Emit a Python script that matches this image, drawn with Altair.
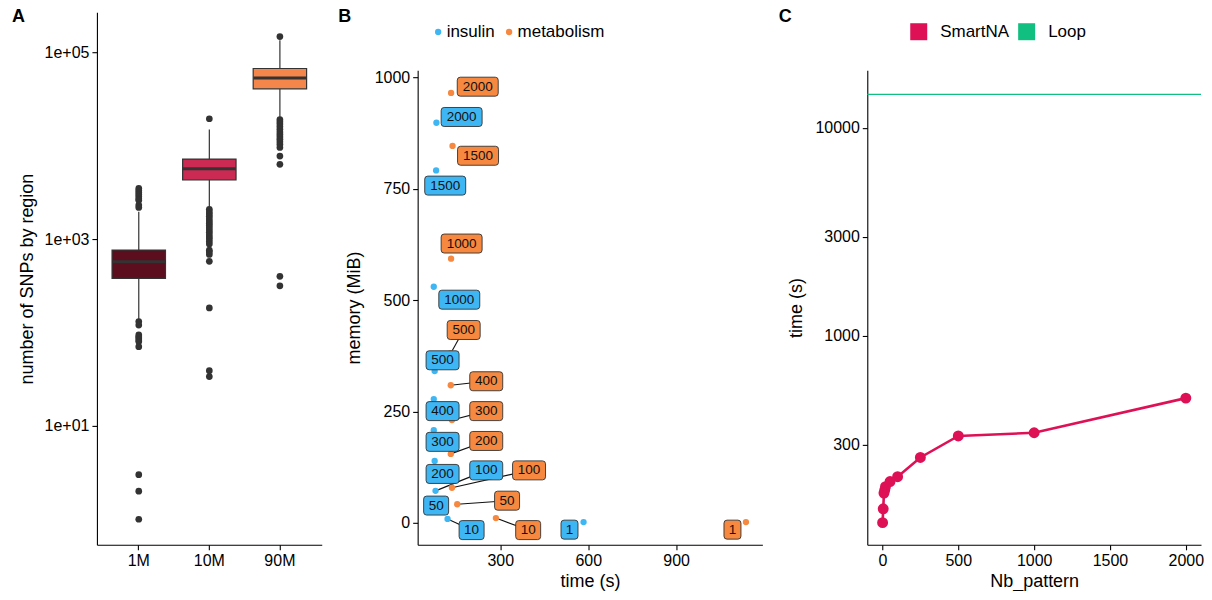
import altair as alt
import pandas as pd

FONT = "Liberation Sans"

# ---------------- Panel A : box plots (summary statistics) ----------
A_CATS = ["1M", "10M", "90M"]
A_Q1 = [380, 4305, 40550]
A_MED = [571, 5650, 53100]
A_Q3 = [762, 7180, 67000]
A_WLO = [136, 2130, 19540]
A_WHI = [1959, 14900, 134000]
A_COLORS = ["#5C0E1F", "#CB2A53", "#F4854B"]

A_OUT_1M = [3480, 3300, 3150, 3000, 2850, 2700, 2610, 2310, 2180,
            131, 120, 94, 90, 87, 83, 80, 70.5, 3, 2, 1]
A_OUT_10M = [19400, 2080, 1950, 1850, 1750, 1650, 1560, 1480, 1400, 1320, 1250,
             1180, 1110, 1050, 1000, 940, 885, 760, 731, 685, 577, 183, 39, 33.7]
A_OUT_90M = [147000, 19000, 18000, 17000, 16000, 15000, 14000, 13200, 12400,
             11700, 11000, 10300, 9550, 7730, 6310, 399, 316]
A_TICKS = [10, 1000, 100000]
A_TICK_LABELS = ["1e+01", "1e+03", "1e+05"]

# ---------------- Panel B : memory vs time ----------------
B_PATTERN = [1, 10, 50, 100, 200, 300, 400, 500, 1000, 1500, 2000]
INS_TIME = [584, 120, 76, 79, 76, 73, 73, 76, 73, 81, 82]
INS_MEM = [2, 9, 40, 72, 139, 208, 278, 341, 530, 791, 898]
MET_TIME = [1138, 285, 153, 135, 131, 135, 131, 131, 132, 137, 132]
MET_MEM = [2, 11, 42, 79, 155, 231, 309, 381, 593, 846, 965]
# repelled label anchors (data units) and whether a leader segment is drawn
INS_LAB_X = [536, 202, 81, 252, 103, 103, 103, 103, 160, 112, 168]
INS_LAB_Y = [-15, -16, 39, 118, 110, 182, 251, 365, 501, 757, 911]
MET_LAB_X = [1092, 395, 323, 398, 252, 252, 252, 175, 168, 224, 223]
MET_LAB_Y = [-15, -16, 50, 118, 184, 251, 318, 433, 627, 824, 979]
INS_SEG = [0, 1, 0, 1, 0, 0, 0, 0, 0, 0, 0]
MET_SEG = [0, 1, 1, 1, 1, 1, 1, 1, 0, 0, 0]
B_GROUPS = ["insulin", "metabolism"]
B_COLORS = ["#3FB6F4", "#F6883F"]

# ---------------- Panel C : time vs Nb_pattern ----------------
C_PATTERN = [1, 5, 10, 15, 20, 50, 100, 250, 500, 1000, 2000]
C_TIME = [127, 148, 176, 182, 189, 200, 211, 261, 331, 343, 503]
LOOP_TIME = [14450]
C_METHODS = ["SmartNA", "Loop"]
C_COLORS = ["#DE1156", "#11BF80"]

# ======================= build data frames =======================
a_stats = pd.DataFrame({"cat": A_CATS, "q1": A_Q1, "med": A_MED, "q3": A_Q3,
                        "wlo": A_WLO, "whi": A_WHI})
a_out = pd.DataFrame({
    "cat": ["1M"] * len(A_OUT_1M) + ["10M"] * len(A_OUT_10M) + ["90M"] * len(A_OUT_90M),
    "val": A_OUT_1M + A_OUT_10M + A_OUT_90M,
})

ins = pd.DataFrame({"group": "insulin", "pattern": B_PATTERN, "t": INS_TIME, "mem": INS_MEM,
                    "lx": INS_LAB_X, "ly": INS_LAB_Y, "seg": INS_SEG})
met = pd.DataFrame({"group": "metabolism", "pattern": B_PATTERN, "t": MET_TIME, "mem": MET_MEM,
                    "lx": MET_LAB_X, "ly": MET_LAB_Y, "seg": MET_SEG})
bdf = pd.concat([ins, met], ignore_index=True)
bdf["label"] = bdf["pattern"].astype(str)
bdf["nch"] = bdf["label"].str.len().astype(str)

cdf = pd.DataFrame({"pattern": C_PATTERN, "time": C_TIME, "method": "SmartNA"})
loop = pd.DataFrame({"time": LOOP_TIME, "method": "Loop"})

FULL_H = 533          # height of every panel (A uses it all)
TOP_GAP = 58          # B and C panels start lower, below their legends

# ======================= Panel A =======================
a_x = alt.X("cat:N", sort=A_CATS,
            scale=alt.Scale(domain=A_CATS, paddingInner=0.243, paddingOuter=0.2145),
            axis=alt.Axis(title=None, labelAngle=0))
a_yscale = alt.Scale(type="log", domain=[0.533, 268000], nice=False)
label_expr = " : ".join(
    [f"datum.value == {v} ? '{l}'" for v, l in zip(A_TICKS, A_TICK_LABELS)]) + " : ''"
a_yaxis = alt.Axis(title="number of SNPs by region", values=A_TICKS, labelExpr=label_expr,
                   titlePadding=8)

a_base = alt.Chart(a_stats)
a_wlo = a_base.mark_rule(color="#333333", strokeWidth=1.2).encode(
    x=a_x, y=alt.Y("wlo:Q", scale=a_yscale, axis=a_yaxis), y2="q1:Q")
a_whi = a_base.mark_rule(color="#333333", strokeWidth=1.2).encode(
    x=a_x, y=alt.Y("q3:Q", scale=a_yscale, axis=a_yaxis), y2="whi:Q")
a_box = a_base.mark_bar(stroke="#333333", strokeWidth=1.2, opacity=1).encode(
    x=a_x, y=alt.Y("q1:Q", scale=a_yscale, axis=a_yaxis), y2="q3:Q",
    fill=alt.Fill("cat:N", scale=alt.Scale(domain=A_CATS, range=A_COLORS), legend=None))
a_med = a_base.mark_tick(color="#333333", thickness=3, size=53, opacity=1).encode(
    x=a_x, y=alt.Y("med:Q", scale=a_yscale, axis=a_yaxis))
a_pts = alt.Chart(a_out).mark_circle(size=45, color="#333333", opacity=1).encode(
    x=a_x, y=alt.Y("val:Q", scale=a_yscale, axis=a_yaxis))

chartA = alt.layer(a_wlo, a_whi, a_box, a_med, a_pts).properties(
    width=225, height=FULL_H,
    title=alt.TitleParams("A", anchor="start", offset=-14, dx=-6))

# ======================= Panel B =======================
def rounded_box(w, h=0.95, c=0.3):
    f = lambda v: f"{v:.2f}"
    return (f"M{f(-w+c)},{f(-h)}H{f(w-c)}Q{f(w)},{f(-h)} {f(w)},{f(-h+c)}"
            f"V{f(h-c)}Q{f(w)},{f(h)} {f(w-c)},{f(h)}H{f(-w+c)}"
            f"Q{f(-w)},{f(h)} {f(-w)},{f(h-c)}V{f(-h+c)}Q{f(-w)},{f(-h)} {f(-w+c)},{f(-h)}Z")

BOX_PATHS = [rounded_box(w) for w in (0.85, 1.25, 1.65, 2.05)]

b_xscale = alt.Scale(domain=[18, 1194], nice=False, zero=False)
b_yscale = alt.Scale(domain=[-49, 1016], nice=False, zero=False, range=[FULL_H, TOP_GAP])
b_xaxis = alt.Axis(title="time (s)", values=[300, 600, 900], format="d", titlePadding=4)
b_yaxis = alt.Axis(title="memory (MiB)", values=[0, 250, 500, 750, 1000], format="d",
                   titlePadding=11)
b_color_scale = alt.Scale(domain=B_GROUPS, range=B_COLORS)

b_base = alt.Chart(bdf)
b_seg = b_base.transform_filter("datum.seg == 1").mark_rule(color="#111111", strokeWidth=1.1).encode(
    x=alt.X("t:Q", scale=b_xscale, axis=b_xaxis),
    y=alt.Y("mem:Q", scale=b_yscale, axis=b_yaxis),
    x2="lx:Q", y2="ly:Q")
b_dots = b_base.mark_circle(size=40, opacity=1).encode(
    x=alt.X("t:Q", scale=b_xscale, axis=b_xaxis),
    y=alt.Y("mem:Q", scale=b_yscale, axis=b_yaxis),
    color=alt.Color("group:N", scale=b_color_scale,
                    legend=alt.Legend(title=None, orient="none", legendX=12, legendY=11,
                                      direction="horizontal", symbolType="circle",
                                      symbolSize=40, labelFontSize=17, labelOffset=0,
                                      columnPadding=5, labelColor="black")))
b_boxes = b_base.mark_point(filled=True, size=400, opacity=1, stroke="#333333",
                            strokeWidth=0.9).encode(
    x=alt.X("lx:Q", scale=b_xscale, axis=b_xaxis),
    y=alt.Y("ly:Q", scale=b_yscale, axis=b_yaxis),
    color=alt.Color("group:N", scale=b_color_scale, legend=None),
    shape=alt.Shape("nch:N", scale=alt.Scale(domain=["1", "2", "3", "4"], range=BOX_PATHS),
                    legend=None))
b_text = b_base.mark_text(fontSize=13.5, color="#111111").encode(
    x=alt.X("lx:Q", scale=b_xscale, axis=b_xaxis),
    y=alt.Y("ly:Q", scale=b_yscale, axis=b_yaxis),
    text="label:N")

chartB = alt.layer(b_seg, b_dots, b_boxes, b_text).properties(
    width=345, height=FULL_H,
    title=alt.TitleParams("B", anchor="start", offset=-14, dx=-7))

# ======================= Panel C =======================
c_xscale = alt.Scale(domain=[-100, 2100], nice=False, zero=False)
c_yscale = alt.Scale(type="log", domain=[99.4, 18880], nice=False, range=[FULL_H, TOP_GAP])
c_xaxis = alt.Axis(title="Nb_pattern", values=[0, 500, 1000, 1500, 2000], format="d",
                   titlePadding=4)
c_yaxis = alt.Axis(title="time (s)", values=[300, 1000, 3000, 10000], format="d",
                   titlePadding=9)
c_color_scale = alt.Scale(domain=C_METHODS, range=C_COLORS)

c_pts = alt.Chart(cdf).mark_circle(size=80, opacity=1).encode(
    x=alt.X("pattern:Q", scale=c_xscale, axis=c_xaxis),
    y=alt.Y("time:Q", scale=c_yscale, axis=c_yaxis),
    stroke=alt.Stroke("method:N", scale=c_color_scale, legend=None),
    fill=alt.Fill("method:N", scale=c_color_scale,
                  legend=alt.Legend(title=None, orient="none", legendX=43, legendY=11,
                                    direction="horizontal", symbolType="square",
                                    symbolSize=289, symbolStrokeWidth=0,
                                    labelFontSize=17, labelOffset=13, columnPadding=9,
                                    labelColor="black")))
c_line = alt.Chart(cdf).mark_line(strokeWidth=2.6).encode(
    x=alt.X("pattern:Q", scale=c_xscale, axis=c_xaxis),
    y=alt.Y("time:Q", scale=c_yscale, axis=c_yaxis),
    stroke=alt.Stroke("method:N", scale=c_color_scale, legend=None))
c_loop = alt.Chart(loop).mark_rule(strokeWidth=1.4).encode(
    y=alt.Y("time:Q", scale=c_yscale, axis=c_yaxis),
    stroke=alt.Stroke("method:N", scale=c_color_scale, legend=None))

chartC = alt.layer(c_pts, c_line, c_loop).properties(
    width=334, height=FULL_H,
    title=alt.TitleParams("C", anchor="start", offset=-14, dx=-9))

chart = alt.hconcat(chartA, chartB, chartC, spacing=16).resolve_scale(
    color="independent", fill="independent", stroke="independent", shape="independent"
).resolve_legend(
    color="independent", fill="independent", stroke="independent", shape="independent"
).properties(
    padding={"left": 4, "top": 0, "right": 0, "bottom": 0}
).configure(font=FONT).configure_axis(
    grid=False, domainColor="black", tickColor="black", labelColor="black",
    titleColor="black", labelFontSize=16, titleFontSize=18, titleFontWeight="normal",
    tickSize=5, labelPadding=3, domainWidth=1.1, tickWidth=1.1, labelFont=FONT,
    titleFont=FONT, labelFlush=False, labelOverlap=False
).configure_view(stroke=None).configure_title(
    font=FONT, fontSize=18, fontWeight="bold", color="black"
).configure_legend(labelFont=FONT)

chart.save("out.html", embed_options={"renderer": "svg", "actions": False})
